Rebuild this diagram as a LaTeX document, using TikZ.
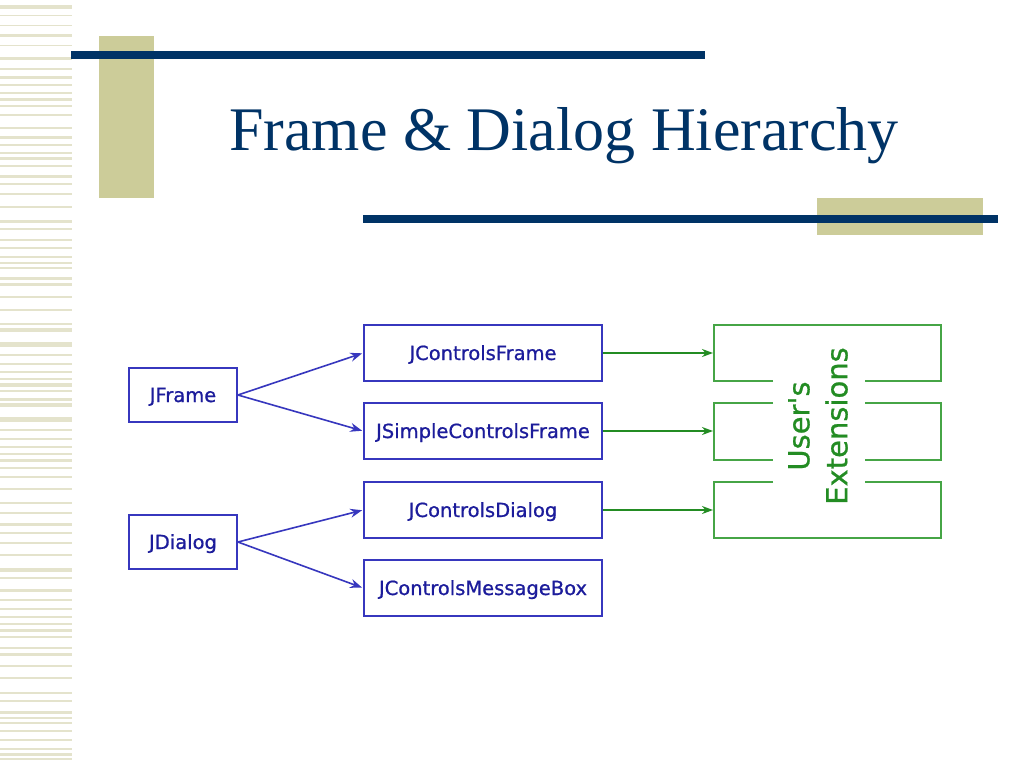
\documentclass[tikz,border=0pt]{standalone}
\usepackage{fontspec}
\usepackage{xcolor}
\usetikzlibrary{arrows.meta}
\setmainfont{Liberation Serif}
\newfontfamily\clsfont[FakeBold=0.8]{DejaVu Sans}
\newfontfamily\extfont[FakeBold=0.8]{DejaVu Sans}
\definecolor{navy}{RGB}{0,51,102}
\definecolor{khaki}{RGB}{204,204,153}
\definecolor{stripe}{RGB}{228,227,204}
\definecolor{clsline}{RGB}{55,55,190}
\definecolor{clstext}{RGB}{28,28,155}
\definecolor{extline}{RGB}{70,165,70}
\definecolor{exttext}{RGB}{35,140,35}

\begin{document}
\begin{tikzpicture}[x=1pt,y=-1pt,
  cls/.style={draw=clsline, line width=1.8pt, text=clstext, font=\clsfont\fontsize{19.5}{22}\selectfont, text height=14pt, text depth=0pt, inner sep=0pt},
  base/.style={cls, minimum width=108pt, minimum height=54pt},
  sub/.style={cls, minimum width=238pt, minimum height=56pt},
  ext/.style={draw=extline, line width=1.8pt},
  inh/.style={-{Stealth[length=12pt,width=9pt,inset=4pt]}, draw=clsline, fill=clsline, line width=1.6pt, shorten >=1pt},
  usr/.style={-{Stealth[length=11pt,width=8pt,inset=3.5pt]}, draw=exttext, fill=exttext, line width=1.6pt, shorten >=1pt}]
				\useasboundingbox (0,0) rectangle (1024,768);
				\fill[white] (0,0) rectangle (1024,768);
				\foreach \sy/\sh in {5/4, 15/1.5, 25/1.5, 34/3, 45/1.5, 57/3, 68/1.5, 76/2.5, 84/1.5, 92/1.5, 98/3, 105/1.5, 114/1.5, 127/1.5, 136/2.5, 144/1.5, 152/1.5, 157/3, 165/1.5, 175/2.5, 183/1.5, 193/1.5, 206/1.5, 220/2.5, 228/1.5, 239/1.5, 247/1.5, 256/1.5, 262/2, 267/1.5, 277/3, 283/3, 296/1.5, 309/1.5, 323/2, 328/4, 342/5, 354/1.5, 363/2, 371/1.5, 378/1.5, 383/4, 390/1.5, 398/3, 403/4, 417/5, 429/1.5, 438/2, 446/1.5, 453/1.5, 459/3, 467/1.5, 476/1.5, 488/1.5, 502/1.5, 512/2, 523/3, 532/1.5, 542/1.5, 554/1.5, 568/4, 577/1.5, 589/3, 599/1.5, 608/2, 616/2, 623/1.5, 629/3, 636/1.5, 647/1.5, 653/3, 665/1.5, 677/1.5, 692/2, 700/1.5, 711/3, 717/1.5, 722/1.5, 730/2, 739/1.5, 748/1.5, 753/3, 758/2}
					\fill[stripe] (0,\sy) rectangle (72,\sy+\sh);
				\fill[khaki] (99,36) rectangle (154,198);
				\fill[navy] (71,51) rectangle (705,59);
				\fill[khaki] (817,198) rectangle (983,235);
				\fill[navy] (363,215) rectangle (998,223);
				\node[anchor=base west, inner sep=0pt, text=navy, font=\fontsize{62}{70}\selectfont] (title) at (229,150) {Frame \& Dialog Hierarchy};

				\node[base] (jframe) at (183,395) {JFrame};
				\node[base] (jdialog) at (183,542) {JDialog};
				\node[sub] (jcf) at (483,353) {JControlsFrame};
				\node[sub] (jscf) at (483,431) {JSimpleControlsFrame};
				\node[sub] (jcd) at (483,510) {JControlsDialog};
				\node[sub] (jcmb) at (483,588) {JControlsMessageBox};

				\draw[inh] (jframe.east) -- (jcf.west);
				\draw[inh] (jframe.east) -- (jscf.west);
				\draw[inh] (jdialog.east) -- (jcd.west);
				\draw[inh] (jdialog.east) -- (jcmb.west);

				\draw[ext] (773,381) -- (714,381) -- (714,325) -- (941,325) -- (941,381) -- (865,381);
				\draw[ext] (773,403) -- (714,403) -- (714,460) -- (773,460);
				\draw[ext] (865,403) -- (941,403) -- (941,460) -- (865,460);
				\draw[ext] (773,482) -- (714,482) -- (714,538) -- (941,538) -- (941,482) -- (865,482);
				\coordinate (ext1) at (714,353);
				\coordinate (ext2) at (714,431);
				\coordinate (ext3) at (714,510);
				\node[rotate=90, align=center, text=exttext, inner sep=0pt, font=\extfont\fontsize{29}{38}\selectfont] (users) at (818,426) {User's\\Extensions};

				\draw[usr] (jcf.east) -- (ext1);
				\draw[usr] (jscf.east) -- (ext2);
				\draw[usr] (jcd.east) -- (ext3);
\end{tikzpicture}
\end{document}
